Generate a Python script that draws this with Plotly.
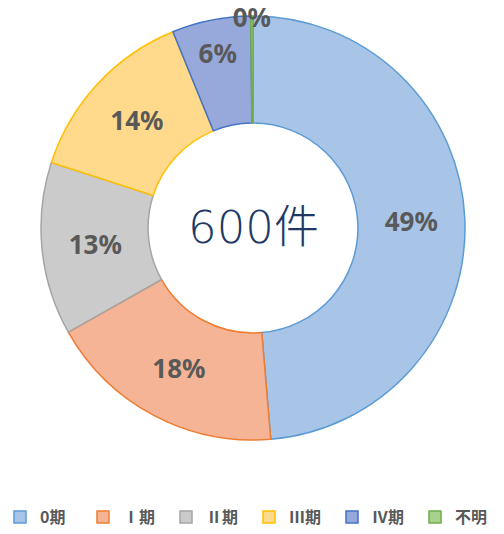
import plotly.graph_objects as go

# stage distribution of 600 cases
stages = ["0期", "Ⅰ期", "Ⅱ期", "Ⅲ期", "Ⅳ期", "不明"]
counts = [292, 109, 79, 83, 36, 1]
pct_labels = ["49%", "18%", "13%", "14%", "6%", "0%"]
fills = ["#a8c5e8", "#f5b496", "#cbcbcb", "#ffd98c", "#97a9da", "#a9d18e"]
edges = ["#5b9bd5", "#ed7d31", "#a5a5a5", "#ffc000", "#4472c4", "#70ad47"]
total_label = "600件"

W, H = 504, 534

fig = go.Figure()
fig.add_trace(go.Pie(
    labels=stages, values=counts, text=pct_labels,
    textinfo="text", textposition="inside", insidetextorientation="horizontal",
    hole=0.495, sort=False, direction="clockwise", rotation=0,
    marker=dict(colors=fills, line=dict(color=edges, width=1.5)),
    textfont=dict(family="Noto Sans, Arial", size=26, color="#595959", weight="bold"),
    domain=dict(x=[41/W, 465/W], y=[1-440/H, 1-16/H]),
))

fig.add_annotation(text=total_label, x=253/W, y=1-228/H, xref="paper", yref="paper",
                   showarrow=False,
                   font=dict(family="DejaVu Sans, Noto Sans CJK JP", size=45, color="#203864", weight=300))

fig.update_layout(
    width=W, height=H, margin=dict(l=0, r=0, t=0, b=0),
    paper_bgcolor="white", plot_bgcolor="white",
    uniformtext=dict(minsize=26, mode="show"),
    legend=dict(orientation="h", x=0, xanchor="left", y=0.0, yanchor="bottom",
                font=dict(family="Noto Sans CJK JP", size=16, color="#595959", weight="bold"),
                itemwidth=30, entrywidth=38, traceorder="normal"),
)

fig.write_html("out.html", config={"displayModeBar": False},
               post_script="document.body.style.margin='0';")
